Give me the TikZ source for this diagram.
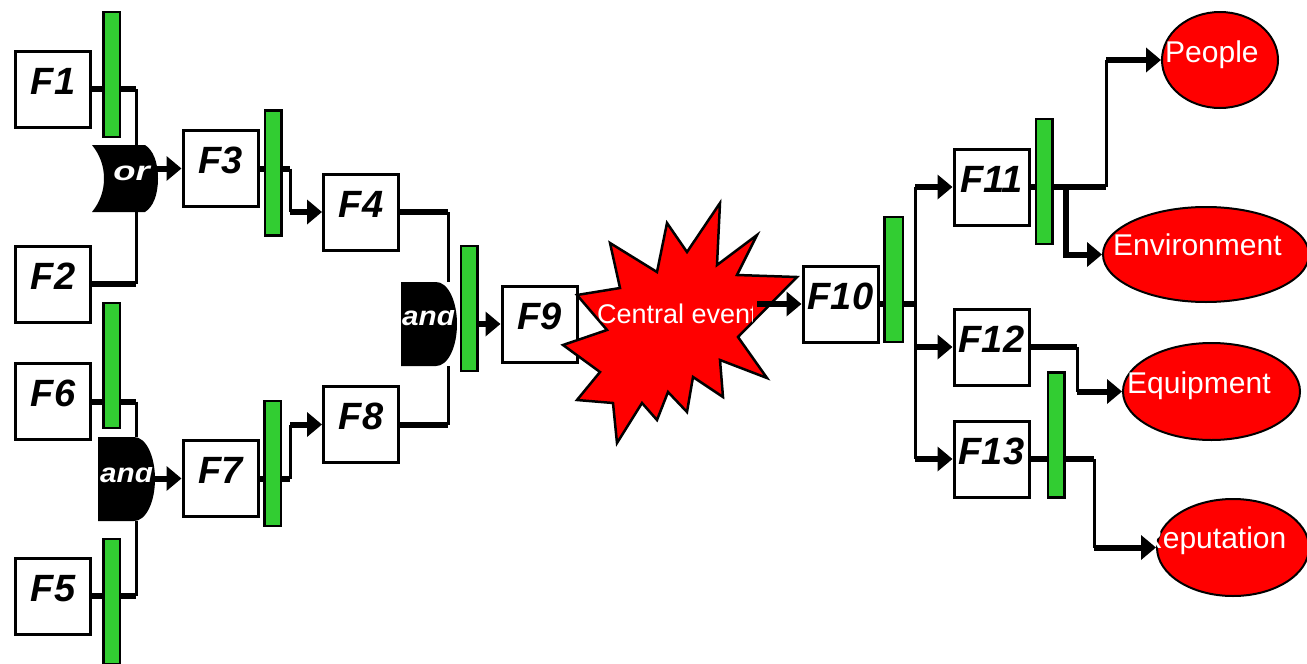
\documentclass[tikz,border=0pt]{standalone}
\usepackage{fontspec}
\setmainfont{Liberation Sans}
\usetikzlibrary{arrows.meta,calc,shapes.geometric}
\definecolor{barg}{RGB}{50,205,50}
\definecolor{evred}{RGB}{255,0,0}
\begin{document}
\begin{tikzpicture}[x=1pt,y=-1pt,
  fbox/.style={draw, line width=3pt, fill=white, minimum width=75pt, minimum height=76pt,
    inner xsep=0pt, inner ysep=0pt, text height=27pt, text depth=17pt,
    font=\fontsize{38}{40}\selectfont\bfseries\itshape},
  gbar/.style={draw, line width=2.5pt, fill=barg, minimum width=16.5pt, minimum height=125pt, inner sep=0pt},
  stub/.style={line width=6pt},
  thinl/.style={line width=3pt},
  arr/.style={line width=6pt, -{Triangle[length=15pt,width=24pt]}},
  gate/.style={fill=black},
  gatetxt/.style={text=white, font=\fontsize{27}{29}\selectfont\bfseries\itshape, inner sep=0pt, anchor=base},
  conseq/.style={ellipse, draw=black, line width=2pt, fill=evred, inner sep=0pt},
  ctxt/.style={text=white, font=\fontsize{30}{32}\selectfont, inner sep=0pt, anchor=base west},
]
\useasboundingbox (0,0) rectangle (1307,664);

% ---- boxes
\node[fbox] (f1) at (53,89) {F1};
\node[fbox] (f2) at (53,284) {F2};
\node[fbox] (f6) at (53,401.5) {F6};
\node[fbox] (f5) at (53,596) {F5};
\node[fbox] (f3) at (220.5,168.5) {F3};
\node[fbox] (f7) at (220.5,478.5) {F7};
\node[fbox] (f4) at (361,212) {F4};
\node[fbox] (f8) at (361,424.5) {F8};
\node[fbox] (f9) at (539.5,324) {F9};
\node[fbox] (f10) at (840.5,304) {F10};
\node[fbox] (f11) at (991.5,187) {F11};
\node[fbox] (f12) at (991.5,347) {F12};
\node[fbox] (f13) at (991.5,459) {F13};

% ---- junction coordinates
\coordinate (j1) at (136,89);
\coordinate (g1t) at (136,145);
\coordinate (j2) at (136,284);
\coordinate (g1b) at (136,212);
\coordinate (g1o) at (157,168.5);
\coordinate (j6) at (136,401.5);
\coordinate (g2t) at (136,437);
\coordinate (j5) at (136,596);
\coordinate (g2b) at (136,521);
\coordinate (g2o) at (155,478.5);
\coordinate (j3) at (290,168.5);
\coordinate (j3b) at (290,212);
\coordinate (j7) at (290,478.5);
\coordinate (j7b) at (290,424.5);
\coordinate (j4) at (448,212);
\coordinate (g3t) at (448,282);
\coordinate (j8) at (448,424.5);
\coordinate (g3b) at (448,366);
\coordinate (g3o) at (478,324);
\coordinate (so) at (757,304);
\coordinate (j10) at (915,304);
\coordinate (j10a) at (915,187);
\coordinate (j10b) at (915,347);
\coordinate (j10c) at (915,459);
\coordinate (j11) at (1106,187);
\coordinate (j11u) at (1106,60);
\coordinate (j11e) at (1066,187);
\coordinate (j12) at (1077,347);
\coordinate (j12d) at (1077,391.5);
\coordinate (j13) at (1094,459);
\coordinate (j13d) at (1094,547.5);

% ---- stubs and thin lines
\draw[stub] (f1.east) -- (j1);
\draw[thinl] (j1) -- (g1t);
\draw[stub] (f2.east) -- (j2);
\draw[thinl] (j2) -- (g1b);
\draw[stub] (f6.east) -- (j6);
\draw[thinl] (j6) -- (g2t);
\draw[stub] (f5.east) -- (j5);
\draw[thinl] (j5) -- (g2b);
\draw[stub] (f3.east) -- (j3);
\draw[thinl] (j3) -- (j3b);
\draw[stub] (f7.east) -- (j7);
\draw[thinl] (j7) -- (j7b);
\draw[stub] (f4.east) -- (j4);
\draw[thinl] (j4) -- (g3t);
\draw[stub] (f8.east) -- (j8);
\draw[thinl] (j8) -- (g3b);
\draw[stub] (f10.east) -- (j10);
\draw[thinl] (j10a) -- (j10c);
\draw[stub] (f11.east) -- (j11);
\draw[thinl] (j11) -- (j11u);
\draw[stub] (f12.east) -- (j12);
\draw[thinl] (j12) -- (j12d);
\draw[stub] (f13.east) -- (j13);
\draw[thinl] (j13) -- (j13d);

% ---- gates
\fill[gate] (92,145) -- (145,145) .. controls (153,150) and (158,162) .. (158,178.5)
  .. controls (158,195) and (153,207) .. (145,212) -- (92,212)
  .. controls (100,202) and (104,191) .. (104,178.5)
  .. controls (104,166) and (100,155) .. (92,145) -- cycle;
\node[gatetxt] (g1l) at (131.5,180) {\scalebox{1.35}[1]{or}};
\fill[gate] (98,437) -- (134,437) .. controls (146,437) and (155,456) .. (155,479)
  .. controls (155,502) and (146,521) .. (134,521) -- (98,521) -- cycle;
\begin{scope}
  \clip (96,467) rectangle (157,492);
  \node[gatetxt] (g2l) at (126.5,482) {\scalebox{1.1}[1]{and}};
\end{scope}
\fill[gate] (401,282) -- (436,282) .. controls (448,282) and (457,301) .. (457,324)
  .. controls (457,347) and (448,366) .. (436,366) -- (401,366) -- cycle;
\begin{scope}
  \clip (399,310) rectangle (459,336);
  \node[gatetxt] (g3l) at (428.5,325) {\scalebox{1.1}[1]{and}};
\end{scope}

% ---- green bars
\node[gbar] (b1) at (111.5,74.5) {};
\node[gbar] (b6) at (111.5,365.5) {};
\node[gbar] (b5) at (111.5,601.5) {};
\node[gbar] (b3) at (273,173) {};
\node[gbar] (b7) at (272.5,463.5) {};
\node[gbar] (bm) at (469,308.5) {};
\node[gbar, minimum width=18.5pt] (b10) at (893.5,279.5) {};
\node[gbar] (b11) at (1044,181.5) {};
\node[gbar] (b13) at (1056,435) {};

% ---- arrows
\draw[arr] (g1o) -- (f3.west);
\draw[arr] (j3b) -- (f4.west);
\draw[arr] (g2o) -- (f7.west);
\draw[arr] (j7b) -- (f8.west);
\draw[arr] (g3o) -- (f9.west);

% ---- central event star
\filldraw[fill=evred, draw=black, line width=2.5pt, line join=miter]
  (720,203) -- (717,265) -- (757,235) -- (737,275) -- (797,277) -- (738,337)
  -- (767,378) -- (720,360) -- (723,397) -- (693,377) -- (687,412) -- (668,392)
  -- (657,420) -- (642,403) -- (617,443) -- (613,403) -- (577,400) -- (600,372)
  -- (563,345) -- (607,330) -- (577,295) -- (620,288) -- (610,243) -- (657,272)
  -- (667,223) -- (687,252) -- cycle;
\begin{scope}
  \clip (590,290) rectangle (752,335);
  \node[text=white, font=\fontsize{27}{29}\selectfont, inner sep=0pt, anchor=base west] (cev) at (597,323) {Central event};
\end{scope}
\draw[arr] (so) -- (f10.west);

\draw[arr] (j10a) -- (f11.west);
\draw[arr] (j10b) -- (f12.west);
\draw[arr] (j10c) -- (f13.west);

% ---- consequences
\node[conseq, minimum width=116pt, minimum height=96pt] (people) at (1220,60) {};
\node[conseq, minimum width=206pt, minimum height=95pt] (env) at (1206,254.5) {};
\node[conseq, minimum width=177pt, minimum height=97pt] (equip) at (1211.5,391.5) {};
\node[conseq, minimum width=152pt, minimum height=97pt] (rep) at (1233,547.5) {};
\node[ctxt] (peoplet) at (1165,62) {People};
\node[ctxt] (envt) at (1113,255) {Environment};
\node[ctxt] (equipt) at (1127,393) {Equipment};
\node[ctxt] (rept) at (1141,548) {Reputation};

\draw[arr] (j11u) -- (people.west);
\draw[arr] (j11e) |- (env.west);
\draw[arr] (j12d) -- (equip.west);
\draw[arr] (j13d) -- (rep.west);
\end{tikzpicture}
\end{document}
